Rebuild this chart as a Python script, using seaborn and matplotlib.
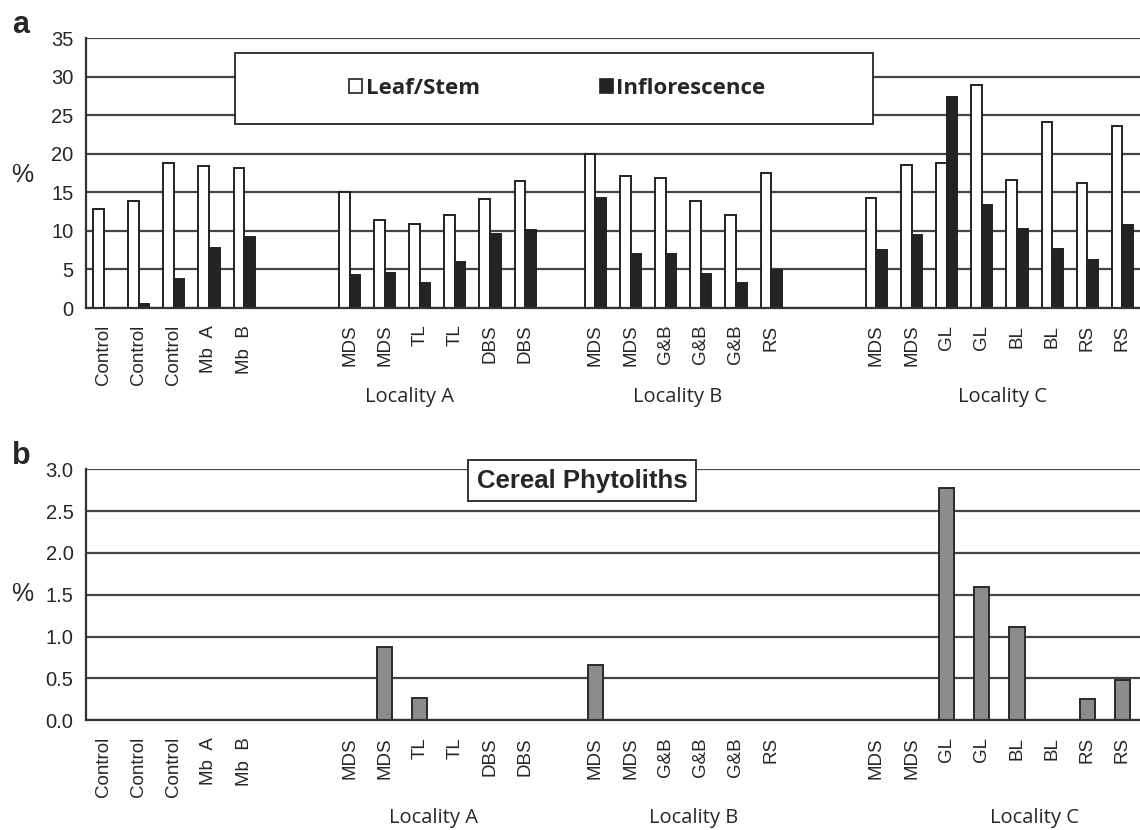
import numpy as np
import pandas as pd
import seaborn as sns
import matplotlib.pyplot as plt
from matplotlib.patches import Patch, Rectangle

# slot labels, '' marks an empty slot between groups
labels = ['Control', 'Control', 'Control', 'Mb  A', 'Mb  B', '', '',
          'MDS', 'MDS', 'TL', 'TL', 'DBS', 'DBS', '',
          'MDS', 'MDS', 'G&B', 'G&B', 'G&B', 'RS', '', '',
          'MDS', 'MDS', 'GL', 'GL', 'BL', 'BL', 'RS', 'RS']

leaf_stem = [12.8, 13.9, 18.8, 18.4, 18.2, None, None,
             15.0, 11.4, 10.9, 12.0, 14.1, 16.4, None,
             20.0, 17.1, 16.8, 13.9, 12.0, 17.5, None, None,
             14.3, 18.6, 18.8, 28.9, 16.6, 24.1, 16.2, 23.6]
inflorescence = [0.0, 0.5, 3.7, 7.8, 9.2, None, None,
                 4.3, 4.5, 3.2, 6.0, 9.6, 10.1, None,
                 14.3, 7.0, 7.0, 4.4, 3.2, 4.9, None, None,
                 7.5, 9.4, 27.3, 13.3, 10.3, 7.7, 6.2, 10.7]
cereal = [0, 0, 0, 0, 0, None, None,
          0, 0.88, 0.27, 0, 0, 0, None,
          0.66, 0, 0, 0, 0, 0, None, None,
          0, 0, 2.78, 1.59, 1.12, 0, 0.25, 0.48]

localities = ['Locality A', 'Locality B', 'Locality C']
loc_x_top = [8.7, 16.35, 25.6]
loc_x_bot = [9.4, 16.8, 26.5]

pos = np.arange(len(labels))
df_a = pd.DataFrame({
    'pos': np.concatenate([pos, pos]),
    'value': pd.to_numeric(pd.Series(leaf_stem + inflorescence), errors='coerce'),
    'part': ['Leaf/Stem'] * len(pos) + ['Inflorescence'] * len(pos),
}).dropna()
df_b = pd.DataFrame({'pos': pos,
                     'value': pd.to_numeric(pd.Series(cereal), errors='coerce')}).dropna()

sns.set_style('white')
plt.rcParams['font.family'] = ['Liberation Sans', 'DejaVu Sans']

fig = plt.figure(figsize=(11.4, 8.3), dpi=100)
ax1 = fig.add_axes([86 / 1140, 1 - 308 / 830, 1 - 86 / 1140, 270 / 830])
ax2 = fig.add_axes([86 / 1140, 1 - 720.3 / 830, 1 - 86 / 1140, 251 / 830])

grid_c = '#454545'


def style_axis(ax, ymax, step, fmt):
    ax.set_xlim(-0.5, len(labels) - 0.5)
    ax.set_ylim(0, ymax)
    ax.set_yticks(np.arange(0, ymax + step / 2, step))
    ax.set_yticklabels([fmt.format(v) for v in np.arange(0, ymax + step / 2, step)], fontsize=14.5)
    ax.set_xticks(pos)
    ax.set_xticklabels(labels, rotation=90, fontsize=13.5)
    ax.set_xticks(np.arange(-0.5, len(labels), 1.0), minor=True)
    ax.tick_params(axis='x', which='major', length=0, pad=12)
    ax.tick_params(axis='x', which='minor', length=5, width=1.3, direction='out', color='#333333')
    ax.tick_params(axis='y', length=5, width=1.3, direction='out', color='#333333', pad=4)
    ax.yaxis.grid(True, color=grid_c, linewidth=1.6)
    ax.set_axisbelow(True)
    for s in ['top', 'right']:
        ax.spines[s].set_visible(False)
    for s in ['left', 'bottom']:
        ax.spines[s].set_color('#333333')
        ax.spines[s].set_linewidth(1.6)
    ax.set_xlabel('')
    ax.set_ylabel('')


# panel a
sns.barplot(data=df_a, x='pos', y='value', hue='part', native_scale=True, width=0.6,
            palette={'Leaf/Stem': 'white', 'Inflorescence': '#232323'},
            edgecolor='#222222', linewidth=1.4, ax=ax1, legend=False)
style_axis(ax1, 35, 5, '{:.0f}')

ax1.add_patch(Rectangle((0.141, 0.683), 0.606, 0.261, transform=ax1.transAxes,
                        facecolor='white', edgecolor='#333333', linewidth=1.4, zorder=5))
handles = [Patch(facecolor='white', edgecolor='#222222', linewidth=1.2),
           Patch(facecolor='#232323', edgecolor='#222222', linewidth=1.2)]
leg = ax1.legend(handles, ['Leaf/Stem', 'Inflorescence'], loc='center',
                 bbox_to_anchor=(0.447, 0.8135), ncol=2, frameon=False,
                 handlelength=0.6, handleheight=0.6, handletextpad=0.15,
                 columnspacing=5.4, prop={'family': 'Open Sans', 'weight': 'bold', 'size': 16})
leg.set_zorder(6)

for name, x in zip(localities, loc_x_top):
    ax1.text(x, -0.33, name, transform=ax1.get_xaxis_transform(), ha='center', va='center',
             fontsize=14.5, family='Open Sans')

# panel b
sns.barplot(data=df_b, x='pos', y='value', native_scale=True, width=0.43,
            color='#8c8c8c', saturation=1, edgecolor='#2a2a2a', linewidth=1.4, ax=ax2)
style_axis(ax2, 3.0, 0.5, '{:.1f}')

ax2.text(0.4706, 0.955, 'Cereal Phytoliths', transform=ax2.transAxes, ha='center', va='center',
         fontsize=18.5, fontweight='bold', zorder=6,
         bbox=dict(boxstyle='square,pad=0.33', facecolor='white', edgecolor='#333333', linewidth=1.4))

for name, x in zip(localities, loc_x_bot):
    ax2.text(x, -0.39, name, transform=ax2.get_xaxis_transform(), ha='center', va='center',
             fontsize=14.5, family='Open Sans')

fig.text(12 / 1140, 1 - 25 / 830, 'a', fontsize=22, fontweight='bold', va='center', ha='left')
fig.text(12 / 1140, 1 - 456 / 830, 'b', fontsize=22, fontweight='bold', va='center', ha='left')
fig.text(22 / 1140, 1 - 175 / 830, '%', fontsize=18, va='center', ha='center')
fig.text(22 / 1140, 1 - 594 / 830, '%', fontsize=18, va='center', ha='center')

fig.savefig('out.png', dpi=100, facecolor='white')
